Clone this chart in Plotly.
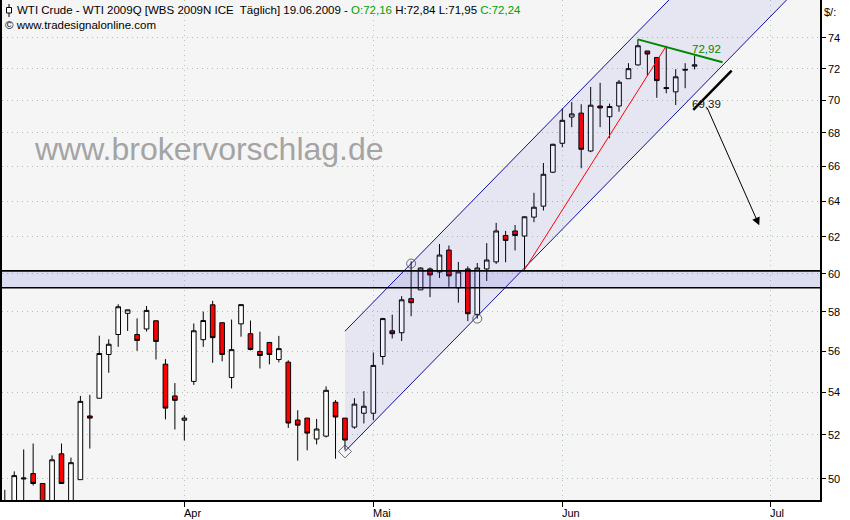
import math
import plotly.graph_objects as go

# ---------------- data ----------------
bar_index = list(range(74))  # trading days, 0 = first visible bar, 73 = 19.06.2009

open_ = [48.80, 48.90, 50.00, 50.24, 49.80, 48.90, 51.13, 48.95, 49.97, 52.88,
         53.72, 55.85, 56.85, 57.93, 56.85, 57.13, 57.55, 55.37, 53.83, 52.68,
         54.53, 56.59, 58.37, 57.45, 54.72, 57.39, 56.89, 56.00, 56.45, 55.60,
         55.47, 52.69, 52.78, 51.81, 51.94, 53.53, 52.78, 52.36, 53.01, 53.01,
         55.75, 57.04, 56.94, 58.69, 59.15, 60.26, 60.10, 61.28, 59.26, 60.26,
         57.86, 60.26, 60.64, 62.08, 62.33, 62.05, 63.10, 63.72, 65.67, 67.38,
         68.97, 69.21, 66.92, 69.65, 68.99, 69.65, 71.36, 72.24, 73.14, 72.72,
         70.80, 70.53, 71.90, 72.16]
high = [49.52, 50.34, 51.33, 51.60, 49.80, 51.06, 51.60, 50.96, 53.83, 53.88,
        56.79, 56.61, 58.40, 58.11, 57.67, 58.31, 57.55, 55.62, 54.45, 52.91,
        57.41, 58.02, 58.58, 57.45, 57.61, 58.38, 57.56, 56.99, 56.45, 56.78,
        55.56, 53.15, 52.78, 52.74, 54.29, 53.63, 52.78, 53.72, 54.06, 55.95,
        57.70, 57.86, 58.82, 60.67, 60.34, 60.34, 61.61, 61.53, 60.64, 60.40,
        60.58, 61.66, 62.78, 62.33, 62.66, 63.15, 64.48, 66.21, 67.35, 69.51,
        69.89, 69.76, 70.84, 71.10, 69.80, 71.28, 72.35, 73.90, 73.14, 72.72,
        73.47, 71.97, 72.35, 72.84]
low = [48.50, 48.60, 48.80, 49.71, 48.40, 48.60, 49.80, 48.70, 49.97, 51.37,
       53.72, 54.95, 56.23, 57.03, 56.03, 57.00, 55.60, 52.72, 52.25, 51.74,
       54.36, 56.23, 55.44, 55.51, 54.19, 56.74, 56.05, 55.16, 55.36, 55.46,
       52.32, 50.82, 51.29, 51.56, 51.88, 50.91, 51.31, 52.28, 52.53, 52.69,
       55.34, 56.65, 56.52, 57.78, 59.15, 58.77, 59.78, 59.31, 58.48, 57.53,
       57.66, 59.62, 60.53, 60.62, 61.26, 60.22, 62.82, 63.47, 65.62, 67.14,
       68.35, 65.90, 66.85, 68.35, 67.68, 69.30, 71.36, 72.20, 71.53, 70.16,
       70.44, 69.71, 70.76, 71.95]
close = [49.00, 50.15, 50.04, 49.80, 48.70, 50.86, 49.80, 50.73, 53.57, 52.78,
         55.90, 56.36, 58.27, 58.11, 56.55, 58.08, 56.50, 53.25, 53.62, 52.78,
         57.04, 57.56, 56.69, 55.85, 56.09, 58.38, 56.10, 55.80, 55.85, 56.14,
         52.55, 52.45, 52.08, 52.27, 54.10, 52.83, 51.76, 53.44, 53.34, 55.31,
         57.66, 56.89, 58.63, 58.48, 60.31, 59.94, 61.01, 59.89, 60.10, 57.91,
         60.31, 60.74, 62.33, 61.81, 62.08, 63.12, 63.66, 65.55, 67.32, 68.77,
         69.16, 67.02, 69.70, 69.53, 69.62, 71.14, 72.00, 73.48, 72.94, 71.24,
         70.74, 71.48, 71.95, 72.24]

month_labels = ["Apr", "Mai", "Jun", "Jul"]
month_index = [19, 39, 59, 81]
y_ticks = [50, 52, 54, 56, 58, 60, 62, 64, 66, 68, 70, 72, 74]
solid_levels = [50, 60, 70]

band_low, band_high = 59.26, 60.16           # horizontal support zone

channel_start = 36                            # regression channel
channel_end = 95
channel_lower_start = 51.24
channel_upper_start = 57.02
channel_slope = 0.008584                      # ln(price) per bar

pivot_x = [36, 43, 50]
pivot_y = [51.24, 60.55, 57.66]

red_line_x, red_line_y = [55, 70], [60.22, 73.47]
green_line_x, green_line_y = [67, 75.96], [73.90, 72.41]
black_line_x, black_line_y = [72.86, 76.92], [69.41, 71.87]
arrow_tail_x, arrow_tail_y = 74.27, 69.62
arrow_tip_x, arrow_tip_y = 79.84, 62.64
green_label, green_label_x, green_label_y = "72,92", 74.3, 73.27
black_label, black_label_x, black_label_y = "69,39", 74.3, 69.76

title_text = ("WTI Crude - WTI 2009Q [WBS 2009N ICE  Täglich] 19.06.2009 - "
              "<span style='color:#00a000'>O:72,16</span> H:72,84 L:71,95 "
              "<span style='color:#00a000'>C:72,24</span>")
source_text = "© www.tradesignalonline.com"
watermark = "www.brokervorschlag.de"
unit_text = "$/:"

# ---------------- figure ----------------
W, H = 850, 520
ML, MR, MT, MB = 2, 30, 0, 20
PW, PH = W - ML - MR, H - MT - MB


def px(xp):
    return (xp - ML) / PW


def py(yp):
    return 1 - (yp - MT) / PH


FONT = "Liberation Sans"
fig = go.Figure()

fig.add_trace(go.Candlestick(
    x=bar_index, open=open_, high=high, low=low, close=close,
    increasing=dict(line=dict(color="black", width=1), fillcolor="white"),
    decreasing=dict(line=dict(color="black", width=1), fillcolor="#ff0000"),
    whiskerwidth=0, showlegend=False, hoverinfo="skip"))

# regression channel
cx = [channel_start, channel_end]
lower = [channel_lower_start * math.exp(channel_slope * (x - channel_start)) for x in cx]
upper = [channel_upper_start * math.exp(channel_slope * (x - channel_start)) for x in cx]
fig.add_trace(go.Scatter(
    x=[cx[0], cx[1], cx[1], cx[0], cx[0]],
    y=[upper[0], upper[1], lower[1], lower[0], upper[0]],
    fill="toself", fillcolor="rgba(60,60,215,0.075)", line=dict(width=0),
    mode="lines", showlegend=False, hoverinfo="skip"))
for ys in (upper, lower):
    fig.add_trace(go.Scatter(x=cx, y=ys, mode="lines",
                             line=dict(color="#1010a0", width=1),
                             showlegend=False, hoverinfo="skip"))

# horizontal band
fig.add_trace(go.Scatter(x=[-5, 100], y=[band_low, band_low], mode="lines",
                         line=dict(color="black", width=1.6),
                         showlegend=False, hoverinfo="skip"))
fig.add_trace(go.Scatter(x=[-5, 100], y=[band_high, band_high], mode="lines",
                         fill="tonexty", fillcolor="rgba(60,60,215,0.13)",
                         line=dict(color="black", width=1.6),
                         showlegend=False, hoverinfo="skip"))

# trend lines
fig.add_trace(go.Scatter(x=red_line_x, y=red_line_y, mode="lines",
                         line=dict(color="#ff0000", width=1),
                         showlegend=False, hoverinfo="skip"))
fig.add_trace(go.Scatter(x=green_line_x, y=green_line_y, mode="lines",
                         line=dict(color="#008800", width=2),
                         showlegend=False, hoverinfo="skip"))
fig.add_trace(go.Scatter(x=black_line_x, y=black_line_y, mode="lines",
                         line=dict(color="black", width=2.5),
                         showlegend=False, hoverinfo="skip"))

# pivot markers
fig.add_trace(go.Scatter(x=pivot_x, y=pivot_y, mode="markers",
                         marker=dict(symbol=["diamond-open", "circle-open", "circle-open"],
                                     size=[10, 9, 9], color="#303030",
                                     line=dict(width=1)),
                         showlegend=False, hoverinfo="skip"))

annotations = [
    dict(x=px(15), y=py(10), xref="paper", yref="paper", xanchor="left", yanchor="middle",
         text=title_text, showarrow=False, font=dict(family=FONT, size=11.5, color="black")),
    dict(x=px(3), y=py(25), xref="paper", yref="paper", xanchor="left", yanchor="middle",
         text=source_text, showarrow=False, font=dict(family=FONT, size=11.5, color="black")),
    dict(x=px(209), y=py(149), xref="paper", yref="paper", xanchor="center", yanchor="middle",
         text=watermark, showarrow=False, font=dict(family=FONT, size=32, color="#a4a4a4")),
    dict(x=px(822), y=py(12), xref="paper", yref="paper", xanchor="left", yanchor="middle",
         text=unit_text, showarrow=False, font=dict(family=FONT, size=11, color="black")),
    dict(x=green_label_x, y=math.log10(green_label_y), xref="x", yref="y",
         text=green_label, showarrow=False, font=dict(family=FONT, size=11.5, color="#008800")),
    dict(x=black_label_x, y=math.log10(black_label_y), xref="x", yref="y",
         text=black_label, showarrow=False, font=dict(family=FONT, size=11.5, color="#202020")),
    dict(x=arrow_tip_x, y=math.log10(arrow_tip_y), xref="x", yref="y",
         ax=arrow_tail_x, ay=math.log10(arrow_tail_y), axref="x", ayref="y",
         text="", showarrow=True, arrowhead=2, arrowsize=1.6, arrowwidth=1,
         arrowcolor="black"),
]
for lab, idx in zip(month_labels, month_index):
    annotations.append(dict(x=idx, y=0, xref="x", yref="paper", xanchor="left",
                            yanchor="top", yshift=-5, xshift=-2, text=lab,
                            showarrow=False,
                            font=dict(family=FONT, size=11, color="black")))

shapes = []
for lv in solid_levels:
    shapes.append(dict(type="line", xref="paper", x0=0, x1=1, yref="y",
                       y0=math.log10(lv), y1=math.log10(lv),
                       line=dict(color="#b2c6b2", width=1.3), layer="between"))
# small chart icon in title
shapes.append(dict(type="line", xref="paper", yref="paper", x0=px(9), x1=px(9),
                   y0=py(4), y1=py(17), line=dict(color="black", width=1)))
shapes.append(dict(type="rect", xref="paper", yref="paper", x0=px(6.5), x1=px(11.5),
                   y0=py(7.5), y1=py(13), fillcolor="white",
                   line=dict(color="black", width=1)))

fig.update_layout(
    width=W, height=H, autosize=False,
    margin=dict(l=ML, r=MR, t=MT, b=MB, pad=0),
    paper_bgcolor="white", plot_bgcolor="#f5f5f5",
    showlegend=False,
    annotations=annotations, shapes=shapes,
    xaxis=dict(range=[-0.296, 86.27], rangeslider=dict(visible=False),
               tickvals=month_index, showticklabels=False,
               ticks="outside", ticklen=5, tickcolor="black", tickwidth=1,
               showgrid=True, gridcolor="#b6c8b6", griddash="1px,4px", gridwidth=1,
               showline=True, linecolor="black", linewidth=1.6, zeroline=False,
               fixedrange=True),
    yaxis=dict(type="log", side="right",
               range=[math.log10(49.075), math.log10(76.53)],
               tickvals=y_ticks, ticktext=[str(v) for v in y_ticks],
               ticks="outside", ticklen=4, tickcolor="black",
               tickfont=dict(family=FONT, size=11, color="black"),
               showgrid=True, gridcolor="#a9c6a9", griddash="1px,4px", gridwidth=1,
               showline=True, linecolor="black", linewidth=1.6, mirror=True,
               zeroline=False, fixedrange=True),
)

fig.write_html("out.html",
               config={"displayModeBar": False},
               post_script="document.body.style.margin='0';document.body.style.overflow='hidden';")
